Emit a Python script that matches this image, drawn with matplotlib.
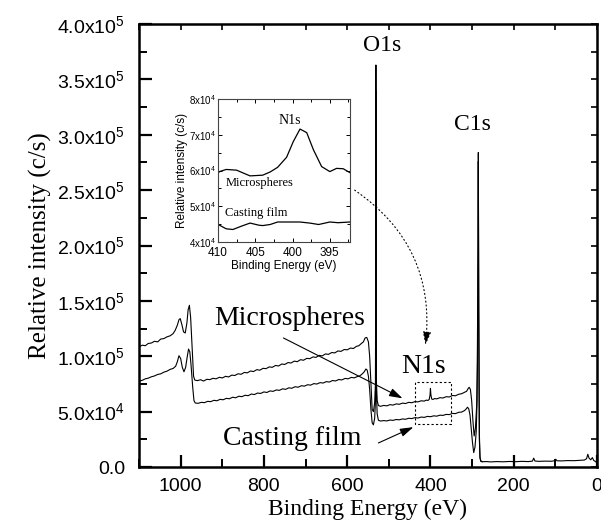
import numpy as np
import matplotlib
matplotlib.use("Agg")
import matplotlib.pyplot as plt
from matplotlib.ticker import FuncFormatter, MultipleLocator
from matplotlib.patches import Rectangle

plt.rcParams['mathtext.fontset'] = 'custom'
plt.rcParams['mathtext.rm'] = 'Liberation Sans'
plt.rcParams['mathtext.it'] = 'Liberation Sans:italic'
plt.rcParams['mathtext.bf'] = 'Liberation Sans:bold'

SANS = 'Liberation Sans'
SERIF = 'Liberation Serif'

# ---------------- main survey spectra (binding energy eV, counts/s) --------
micro_E = [1100, 1092, 1085, 1078, 1070, 1063, 1055, 1048, 1040, 1033, 1025, 1018,
           1013, 1008, 1004, 1001, 997, 993, 989, 985, 982, 979, 976, 972, 969, 966,
           960, 952, 945, 937, 930, 922, 915, 907, 900, 892, 885, 877, 870, 862, 855,
           847, 840, 832, 825, 817, 810, 802, 795, 787, 780, 772, 765, 757, 750, 742,
           735, 727, 720, 712, 705, 697, 690, 682, 675, 667, 660, 652, 645, 637, 630,
           622, 615, 607, 600, 592, 585, 578, 572, 566, 561, 557, 553, 549, 546, 543,
           540, 537, 534, 532, 531, 530, 528, 525, 520, 512, 505, 497, 490, 482, 475,
           467, 460, 452, 445, 437, 430, 422, 415, 410, 406, 403, 401, 400, 399, 397,
           394, 390, 385, 377, 370, 362, 355, 347, 340, 332, 325, 318, 313, 310, 307,
           304, 301, 298, 295, 292, 289, 287, 285.5, 285, 284, 282.5, 281, 279, 275,
           265, 255, 240, 225, 210, 195, 180, 165, 155, 152, 149, 140, 125, 110, 102,
           99, 96, 85, 70, 55, 40, 30, 25, 22, 19, 15, 11, 8, 4, 0]
micro_I = [108.5, 110.0, 109.5, 111.5, 112.0, 113.5, 113.0, 115.5, 116.0, 117.5, 118.5, 120.5,
           123.5, 128.0, 133.0, 134.0, 128.5, 122.0, 121.0, 130.0, 142.0, 146.0, 135.0, 105.0, 82.0, 78.5,
           78.0, 78.8, 77.6, 79.2, 78.9, 80.1, 79.6, 81.0, 80.4, 81.9, 81.3, 83.0, 82.6, 84.2, 83.7,
           85.4, 85.0, 86.7, 86.2, 87.9, 87.4, 89.1, 88.8, 90.4, 90.0, 91.7, 91.2, 93.0, 92.6, 94.3,
           93.9, 95.6, 95.1, 96.9, 96.4, 98.1, 97.8, 99.4, 99.0, 100.8, 100.3, 102.1, 101.7, 103.4, 103.0,
           104.8, 104.4, 106.1, 105.8, 107.4, 107.0, 108.9, 109.5, 111.5, 113.0, 116.5, 117.0, 113.0, 100.0, 75.0,
           52.0, 50.0, 58.0, 75.0, 363.0, 80.0, 60.0, 55.5, 54.8, 55.6, 55.2, 56.3, 55.9, 57.0, 56.6,
           57.7, 57.3, 58.4, 58.0, 59.1, 58.8, 59.8, 59.5, 60.4, 60.1, 61.0, 65.0, 71.0, 65.5, 61.4,
           61.0, 61.8, 61.5, 62.6, 62.3, 63.5, 63.2, 64.6, 64.3, 65.7, 66.2, 67.5, 68.4, 70.5, 72.0,
           70.0, 60.0, 42.0, 28.0, 35.0, 55.0, 95.0, 200.0, 284.0, 150.0, 30.0, 9.0, 5.5, 4.8,
           4.9, 4.6, 4.9, 4.7, 5.0, 4.8, 5.1, 4.9, 5.3, 8.0, 5.4, 5.1, 5.3, 5.2, 5.6,
           7.0, 5.6, 5.5, 5.8, 5.7, 6.0, 6.3, 7.5, 11.5, 8.0, 6.5, 8.5, 6.0, 5.0, 4.0]

cast_E = [1100, 1092, 1085, 1078, 1070, 1063, 1055, 1048, 1040, 1033, 1025, 1018,
          1012, 1008, 1004, 1000, 996, 992, 988, 984, 981, 978, 975, 971, 968, 965,
          958, 950, 943, 935, 928, 920, 913, 905, 898, 890, 883, 875, 868, 860, 853,
          845, 838, 830, 823, 815, 808, 800, 793, 785, 778, 770, 763, 755, 748, 740,
          733, 725, 718, 710, 703, 695, 688, 680, 673, 665, 658, 650, 643, 635, 628,
          620, 613, 605, 598, 590, 583, 576, 570, 564, 559, 555, 552, 549, 546, 543,
          540, 537, 534, 532, 531, 530, 528, 525, 520, 512, 505, 497, 490, 482, 475,
          467, 460, 452, 445, 437, 430, 422, 415, 407, 400, 392, 385, 377, 370, 362,
          355, 347, 340, 332, 325, 318, 314, 311, 308, 305, 302, 299, 296, 293, 290,
          288, 286.5, 285, 284, 282.5, 281, 279, 276]
cast_I = [77.5, 78.3, 79.6, 80.2, 81.5, 82.2, 83.6, 84.1, 85.7, 86.5, 88.2, 89.0,
          91.0, 95.0, 100.5, 98.0, 90.0, 86.0, 90.0, 100.0, 106.5, 104.0, 92.0, 72.0, 60.0, 57.8,
          57.5, 58.4, 58.1, 59.3, 59.0, 60.2, 59.8, 61.1, 60.7, 62.0, 61.6, 63.0, 62.5, 63.9, 63.5,
          64.8, 64.4, 65.9, 65.4, 66.8, 66.4, 67.8, 67.3, 68.7, 68.3, 69.6, 69.2, 70.6, 70.1, 71.5,
          71.1, 72.5, 72.0, 73.4, 73.0, 74.3, 73.9, 75.3, 74.9, 76.2, 75.8, 77.1, 76.7, 78.1, 77.7,
          79.0, 78.6, 80.0, 79.6, 80.9, 80.5, 81.6, 82.2, 84.0, 86.0, 88.5, 87.5, 82.0, 70.0, 52.0,
          40.0, 38.0, 44.0, 60.0, 340.0, 70.0, 48.0, 42.2, 41.5, 41.9, 41.6, 42.4, 42.1, 42.9, 42.6,
          43.4, 43.1, 44.0, 43.7, 44.6, 44.2, 45.1, 44.8, 45.7, 45.4, 46.2, 45.9, 46.8, 46.6, 47.5,
          47.3, 48.4, 48.2, 49.4, 49.6, 51.0, 52.5, 54.0, 52.5, 47.0, 35.0, 22.0, 13.0, 18.0, 32.0,
          60.0, 150.0, 276.0, 140.0, 25.0, 8.0, 5.0, 4.7]

# ---------------- inset: N1s region ----------------------------------------
ins_E_micro = [410, 409.8, 408.9, 407.5, 406.5, 405.7, 404.0, 403.0, 402.0, 400.8, 399.9,
               399.0, 398.1, 397.2, 396.1, 395.0, 394.1, 393.2, 392.3]
ins_I_micro = [5.92, 5.97, 6.03, 6.01, 5.92, 5.85, 5.87, 5.96, 6.09, 6.37, 6.81,
               7.16, 7.06, 6.58, 6.11, 5.97, 6.06, 6.05, 5.94]
ins_E_cast = [410, 409.8, 408.9, 408.0, 406.9, 405.7, 404.5, 404.0, 403.0, 402.0, 400.5,
              399.0, 397.7, 396.5, 395.0, 393.9, 392.3]
ins_I_cast = [4.49, 4.47, 4.37, 4.35, 4.44, 4.53, 4.47, 4.46, 4.49, 4.56, 4.56,
              4.56, 4.53, 4.49, 4.56, 4.54, 4.56]

main_yticks = [0, 5e4, 1e5, 1.5e5, 2e5, 2.5e5, 3e5, 3.5e5, 4e5]
main_xticks = [1000, 800, 600, 400, 200, 0]
inset_xticks = [410, 405, 400, 395]
inset_yticks = [4e4, 5e4, 6e4, 7e4, 8e4]

fig = plt.figure(figsize=(6.01, 5.29), dpi=100)
ax = fig.add_axes([0.2313, 0.1172, 0.762, 0.8374])

ax.plot(micro_E, np.array(micro_I) * 1e3, color='black', lw=0.8)
ax.plot(cast_E, np.array(cast_I) * 1e3, color='black', lw=0.8)
ax.set_xlim(1100, 0)
ax.set_ylim(0, 4e5)

def yfmt(v, pos):
    if abs(v) < 1:
        return '0.0'
    e = int(np.floor(np.log10(v) + 1e-9))
    m = v / 10 ** e
    return '%.1fx10$^{\\mathrm{%d}}$' % (m, e)

ax.set_yticks(main_yticks)
ax.yaxis.set_major_formatter(FuncFormatter(yfmt))
ax.yaxis.set_minor_locator(MultipleLocator(2.5e4))
ax.set_xticks(main_xticks)
ax.xaxis.set_minor_locator(MultipleLocator(100))
for s in ax.spines.values():
    s.set_linewidth(1.8)
ax.tick_params(which='major', direction='in', length=9, width=1.6, labelsize=14, pad=8)
ax.tick_params(which='minor', direction='in', length=5.5, width=1.4)
ax.tick_params(axis='y', pad=10)
for lab in ax.get_xticklabels() + ax.get_yticklabels():
    lab.set_fontfamily(SANS)

sx = ax.secondary_xaxis('top')
sx.set_xticks(np.arange(0, 1101, 100))
sx.tick_params(direction='in', length=4, width=1.2, labeltop=False)
sy = ax.secondary_yaxis('right')
sy.set_yticks(np.arange(0, 4.01e5, 2.5e4))
sy.tick_params(direction='in', length=4, width=1.2, labelright=False)

ax.set_xlabel('Binding Energy (eV)', fontfamily=SERIF, fontsize=17, labelpad=3)
ax.set_ylabel('Relative intensity (c/s)', fontfamily=SERIF, fontsize=18, labelpad=4)

# peak labels
ax.text(517, 381e3, 'O1s', fontfamily=SERIF, fontsize=17, ha='center', va='center')
ax.text(298, 309e3, 'C1s', fontfamily=SERIF, fontsize=17, ha='center', va='center')
ax.text(416, 91e3, 'N1s', fontfamily=SERIF, fontsize=20, ha='center', va='center')
ax.text(737, 134e3, 'Microspheres', fontfamily=SERIF, fontsize=20, ha='center', va='center')
ax.text(733, 26e3, 'Casting film', fontfamily=SERIF, fontsize=20, ha='center', va='center')

ax.annotate('', xy=(467, 62e3), xytext=(753, 116.5e3),
            arrowprops=dict(arrowstyle='-|>,head_length=0.8,head_width=0.25',
                            color='black', lw=0.8, shrinkA=0, shrinkB=0))
ax.annotate('', xy=(441, 36e3), xytext=(525, 21.7e3),
            arrowprops=dict(arrowstyle='-|>,head_length=0.8,head_width=0.25',
                            color='black', lw=0.8, shrinkA=0, shrinkB=0))
ax.add_patch(Rectangle((351, 38.8e3), 87, 38e3, fill=False, ls=(0, (2, 2)),
                       lw=0.8, ec='black'))
ax.annotate('', xy=(412, 110e3), xytext=(582, 250e3),
            arrowprops=dict(arrowstyle='-|>,head_length=0.8,head_width=0.25',
                            color='black', lw=0.8, ls=(0, (1, 2.5)),
                            connectionstyle='arc3,rad=-0.3', shrinkA=0, shrinkB=0))

# ---------------- inset ----------------
ins = fig.add_axes([0.3627, 0.5425, 0.2196, 0.2703])
ins.plot(ins_E_micro, np.array(ins_I_micro) * 1e4, color='black', lw=0.9)
ins.plot(ins_E_cast, np.array(ins_I_cast) * 1e4, color='black', lw=0.9)
ins.set_xlim(410, 392.3)
ins.set_ylim(4e4, 8e4)
ins.set_xticks(inset_xticks)
ins.xaxis.set_minor_locator(MultipleLocator(2.5))
ins.set_yticks(inset_yticks)
ins.yaxis.set_minor_locator(MultipleLocator(5e3))
ins.yaxis.set_major_formatter(FuncFormatter(
    lambda v, p: '%dx10$^{\\mathrm{4}}$' % int(round(v / 1e4))))
for s in ins.spines.values():
    s.set_linewidth(0.8)
    s.set_color('#444444')
ins.tick_params(which='both', direction='in', top=True, right=True, width=0.7)
ins.tick_params(which='major', length=3)
ins.tick_params(which='minor', length=2)
ins.tick_params(axis='x', labelsize=8.5, pad=3.5)
ins.tick_params(axis='y', labelsize=7, pad=1.5)
for lab in ins.get_xticklabels() + ins.get_yticklabels():
    lab.set_fontfamily(SANS)
ins.set_xlabel('Binding Energy (eV)', fontfamily=SANS, fontsize=8.5, labelpad=1)
ins.set_ylabel('Relative intensity (c/s)', fontfamily=SANS, fontsize=8.5, labelpad=1)
ins.text(400.4, 7.4e4, 'N1s', fontfamily=SERIF, fontsize=10, ha='center', va='center')
ins.text(409.0, 5.64e4, 'Microspheres', fontfamily=SERIF, fontsize=9, ha='left', va='center')
ins.text(409.1, 4.82e4, 'Casting film', fontfamily=SERIF, fontsize=9, ha='left', va='center')

fig.savefig('out.png', dpi=100)
